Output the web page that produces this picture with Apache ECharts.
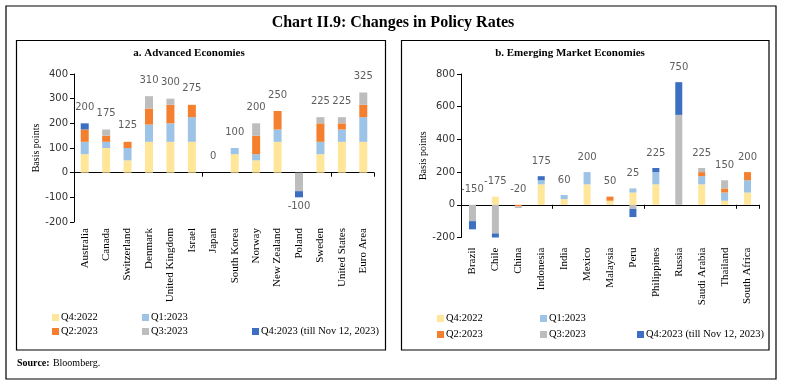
<!DOCTYPE html>
<html><head><meta charset="utf-8">
<script src="https://cdn.jsdelivr.net/npm/echarts@6/dist/echarts.min.js"></script>
<style>html,body{margin:0;padding:0;background:#fff}#c{width:786px;height:386px}</style>
</head><body><div id="c"></div>
<script>
// ---------- data ----------
const seriesNames = ['Q4:2022','Q1:2023','Q2:2023','Q3:2023','Q4:2023 (till Nov 12, 2023)'];

const aeCategories = ['Australia','Canada','Switzerland','Denmark','United Kingdom','Israel','Japan','South Korea','Norway','New Zealand','Poland','Sweden','United States','Euro Area'];
const aeQ4_2022 = [75,100,50,125,125,125,0,75,50,125,0,75,125,125];
const aeQ1_2023 = [50,25,50,70,75,100,0,25,25,50,0,50,50,100];
const aeQ2_2023 = [50,25,25,65,75,50,0,0,75,75,0,75,25,50];
const aeQ3_2023 = [0,25,0,50,25,0,0,0,50,0,-75,25,25,50];
const aeQ4_2023 = [25,0,0,0,0,0,0,0,0,0,-25,0,0,0];
const aeTotals  = [200,175,125,310,300,275,0,100,200,250,-100,225,225,325];

const emeCategories = ['Brazil','Chile','China','Indonesia','India','Mexico','Malaysia','Peru','Philippines','Russia','Saudi Arabia','Thailand','South Africa'];
const emeQ4_2022 = [0,50,0,125,35,125,25,75,125,0,125,25,75];
const emeQ1_2023 = [0,0,0,25,25,75,0,25,75,0,50,50,75];
const emeQ2_2023 = [0,0,-10,0,0,0,25,0,0,0,25,25,50];
const emeQ3_2023 = [-100,-175,-10,0,0,0,0,-25,0,550,25,50,0];
const emeQ4_2023 = [-50,-50,0,25,0,0,0,-50,25,200,0,0,0];
const emeTotals  = [-150,-175,-20,175,60,200,50,25,225,750,225,150,200];

// ---------- styles ----------
const colors = ['#FFE699','#9DC3E6','#F4802F','#BDBDBD','#3C6FC1'];
const sansFont = 'DejaVu Sans';
const serifFont = 'Liberation Serif';

const aeSeries = [aeQ4_2022, aeQ1_2023, aeQ2_2023, aeQ3_2023, aeQ4_2023];
const emeSeries = [emeQ4_2022, emeQ1_2023, emeQ2_2023, emeQ3_2023, emeQ4_2023];

function barSeries(arrs, gi, stack, bw) {
  return arrs.map((arr, i) => ({
    name: seriesNames[i], type: 'bar', stack: stack,
    xAxisIndex: gi * 2, yAxisIndex: gi,
    barWidth: bw, itemStyle: { color: colors[i] },
    data: arr.map(v => v === 0 ? '-' : v)
  }));
}

const posSum = emeCategories.map((_, j) => emeSeries.reduce((s, a) => s + Math.max(0, a[j]), 0));

function yAx(gi, min, max, interval, nameGap) {
  return {
    type: 'value', gridIndex: gi, min: min, max: max, interval: interval,
    splitLine: { show: false },
    axisLine: { show: true, lineStyle: { color: '#000', width: 1 } },
    axisTick: { show: true, length: 4, lineStyle: { color: '#000' } },
    axisLabel: { color: '#333', fontFamily: sansFont, fontSize: 10, margin: 6 },
    name: 'Basis points', nameLocation: 'middle', nameGap: nameGap,
    nameTextStyle: { fontFamily: serifFont, fontSize: 10, color: '#000' }
  };
}
function xAxLabels(gi, cats, margin) {
  return {
    type: 'category', gridIndex: gi, data: cats, position: 'bottom',
    splitLine: { show: false }, splitArea: { show: false },
    axisLine: { show: false, onZero: false }, axisTick: { show: false },
    axisLabel: { rotate: 90, margin: margin, fontFamily: serifFont, fontSize: 11, color: '#000', interval: 0 }
  };
}
function xAxLine(gi, cats) {
  return {
    type: 'category', gridIndex: gi, data: cats, position: 'bottom',
    splitLine: { show: false }, splitArea: { show: false },
    axisLine: { show: true, onZero: true, lineStyle: { color: '#000', width: 1 } },
    axisTick: { show: true, length: 4, inside: false, lineStyle: { color: '#000' } },
    axisLabel: { show: false }
  };
}

function legendItems(pos) {
  return seriesNames.map((n, i) => ({
    data: [n], left: pos[i][0], top: pos[i][1],
    itemWidth: 7, itemHeight: 7, icon: 'rect', itemGap: 0,
    textStyle: { fontFamily: serifFont, fontSize: 10.5, color: '#000', padding: [0, 0, 0, -3] },
    selectedMode: false
  }));
}

const legends = [].concat(
  legendItems([[47, 307], [137, 307], [47, 321], [137, 321], [247, 321]]),
  legendItems([[432, 308], [535, 308], [432, 324], [535, 324], [632, 324]])
);

const option = {
  animation: false,
  backgroundColor: '#fff',
  grid: [
    { left: 74, right: 412, top: 74, height: 148, containLabel: false },
    { left: 461, right: 27, top: 74, height: 163.5, containLabel: false }
  ],
  xAxis: [xAxLabels(0, aeCategories, 6), xAxLine(0, aeCategories), xAxLabels(1, emeCategories, 10), xAxLine(1, emeCategories)],
  yAxis: [yAx(0, -200, 400, 100, 22), yAx(1, -200, 800, 200, 30)],
  legend: legends,
  series: [].concat(
    barSeries(aeSeries, 0, 'ae', 8),
    barSeries(emeSeries, 1, 'eme', 7),
    [{
      type: 'scatter', xAxisIndex: 0, yAxisIndex: 0, symbolSize: 0, silent: true,
      data: aeTotals.map((t, j) => ({
        value: t,
        label: { show: true, position: t < 0 ? 'bottom' : 'top', distance: t < 0 ? 4 : 11,
          formatter: String(t), fontFamily: sansFont, fontSize: 10, color: '#333' }
      }))
    }, {
      type: 'scatter', xAxisIndex: 2, yAxisIndex: 1, symbolSize: 0, silent: true,
      data: emeTotals.map((t, j) => ({
        value: posSum[j],
        label: { show: true, position: 'top', distance: 10,
          formatter: String(t), fontFamily: sansFont, fontSize: 10, color: '#333' }
      }))
    }]
  ),
  graphic: [
    { type: 'rect', shape: { x: 6, y: 6, width: 770, height: 373 }, style: { fill: 'none', stroke: '#000', lineWidth: 1.2 }, silent: true },
    { type: 'rect', shape: { x: 16.5, y: 40.5, width: 369, height: 309.5 }, style: { fill: 'none', stroke: '#000', lineWidth: 1.2 }, silent: true },
    { type: 'rect', shape: { x: 401.5, y: 40.5, width: 367.5, height: 309.5 }, style: { fill: 'none', stroke: '#000', lineWidth: 1.2 }, silent: true },
    { type: 'text', left: 'center', top: 15, style: { text: 'Chart II.9: Changes in Policy Rates', font: 'bold 16px "Liberation Serif"', fill: '#000' } },
    { type: 'text', x: 189, y: 53, style: { text: 'a. Advanced Economies', font: 'bold 11px "Liberation Serif"', fill: '#000', align: 'center', verticalAlign: 'middle' } },
    { type: 'text', x: 570, y: 53, style: { text: 'b. Emerging Market Economies', font: 'bold 11px "Liberation Serif"', fill: '#000', align: 'center', verticalAlign: 'middle' } },
    { type: 'text', x: 17, y: 363, style: { rich: { b: { fontFamily: serifFont, fontWeight: 'bold', fontSize: 10, fill: '#000' }, n: { fontFamily: serifFont, fontSize: 10, fill: '#000' } }, text: '{b|Source:} {n|Bloomberg.}', verticalAlign: 'middle' } }
  ]
};

const chart = echarts.init(document.getElementById('c'), null, { renderer: 'canvas' });
chart.setOption(option);
</script>
</body></html>
